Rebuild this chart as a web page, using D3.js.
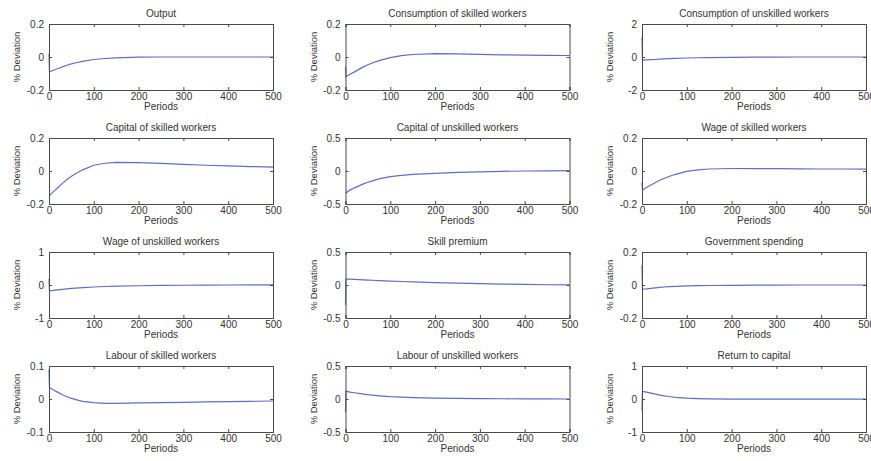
<!DOCTYPE html>
<html><head><meta charset="utf-8">
<script src="https://cdn.jsdelivr.net/npm/d3@7"></script>
<style>
html,body{margin:0;padding:0;background:#fff;}
svg{display:block;}
text{font-family:"Liberation Sans",Arial,sans-serif;fill:#333;}
</style></head>
<body><svg id="c" width="871" height="461"></svg>
<script>
// ---- data ----
const titles = ["Output","Consumption of skilled workers","Consumption of unskilled workers",
  "Capital of skilled workers","Capital of unskilled workers","Wage of skilled workers",
  "Wage of unskilled workers","Skill premium","Government spending",
  "Labour of skilled workers","Labour of unskilled workers","Return to capital"];
const periods = [0,1,10,20,30,40,50,60,75,100,125,150,200,250,300,350,400,450,500];
const xTicks = [0,100,200,300,400,500];
const output        = [0.02,-0.09,-0.08,-0.07,-0.06,-0.05,-0.042,-0.035,-0.026,-0.015,-0.009,-0.005,-0.001,0,0,0,0,0,0];
const consSkilled   = [-0.06,-0.12,-0.105,-0.09,-0.075,-0.06,-0.047,-0.036,-0.022,-0.004,0.008,0.015,0.02,0.019,0.016,0.013,0.011,0.01,0.009];
const consUnskilled = [1.2,-0.18,-0.17,-0.16,-0.15,-0.13,-0.11,-0.1,-0.08,-0.06,-0.045,-0.035,-0.02,-0.01,-0.005,0,0,0,0];
const capSkilled    = [-0.15,-0.148,-0.125,-0.1,-0.075,-0.052,-0.032,-0.015,0.007,0.035,0.047,0.052,0.051,0.046,0.04,0.035,0.031,0.027,0.024];
const capUnskilled  = [-0.33,-0.33,-0.29,-0.255,-0.225,-0.195,-0.17,-0.15,-0.12,-0.085,-0.065,-0.05,-0.035,-0.022,-0.012,-0.005,0,0.003,0.005];
const wageSkilled   = [-0.07,-0.115,-0.1,-0.085,-0.07,-0.056,-0.044,-0.033,-0.02,-0.002,0.007,0.012,0.015,0.015,0.014,0.013,0.012,0.012,0.011];
const wageUnskilled = [0.18,-0.18,-0.165,-0.15,-0.135,-0.12,-0.105,-0.095,-0.08,-0.06,-0.045,-0.035,-0.022,-0.014,-0.008,-0.004,0,0.002,0.003];
const skillPremium  = [-0.3,0.09,0.088,0.085,0.082,0.078,0.075,0.072,0.067,0.06,0.053,0.047,0.037,0.028,0.02,0.014,0.008,0.004,0.001];
const govSpending   = [0.12,-0.025,-0.023,-0.02,-0.017,-0.014,-0.012,-0.01,-0.008,-0.005,-0.004,-0.003,-0.002,-0.001,-0.001,0,0,0,0];
const labSkilled    = [0.09,0.035,0.027,0.02,0.013,0.007,0.002,-0.002,-0.007,-0.011,-0.013,-0.013,-0.012,-0.011,-0.01,-0.009,-0.008,-0.007,-0.006];
const labUnskilled  = [-0.2,0.12,0.105,0.095,0.085,0.075,0.065,0.058,0.048,0.035,0.027,0.022,0.014,0.009,0.006,0.004,0.002,0.001,0];
const returnCapital = [-0.35,0.23,0.21,0.18,0.15,0.12,0.095,0.075,0.05,0.025,0.01,0.002,-0.005,-0.006,-0.005,-0.004,-0.003,-0.002,-0.001];
const seriesList = [output,consSkilled,consUnskilled,capSkilled,capUnskilled,wageSkilled,
  wageUnskilled,skillPremium,govSpending,labSkilled,labUnskilled,returnCapital];
const yLimits = [0.2,0.2,2,0.2,0.5,0.2,1,0.5,0.2,0.1,0.5,1];
const yTickLabels = [["-0.2","0","0.2"],["-0.2","0","0.2"],["-2","0","2"],["-0.2","0","0.2"],
  ["-0.5","0","0.5"],["-0.2","0","0.2"],["-1","0","1"],["-0.5","0","0.5"],["-0.2","0","0.2"],
  ["-0.1","0","0.1"],["-0.5","0","0.5"],["-1","0","1"]];

// ---- layout ----
const svg = d3.select("#c");
const W = 224, H = 66;
const col0 = 49, colStep = 296.5, row0 = 24, rowStep = 114;
const lineColor = "#5d6ec8", axisColor = "#4a4a4a";

titles.forEach((t, i) => {
  const c = i % 3, r = Math.floor(i / 3);
  const g = svg.append("g").attr("transform", `translate(${col0 + c*colStep},${row0 + r*rowStep})`);
  const lim = yLimits[i];
  const x = d3.scaleLinear().domain([0, 500]).range([0, W]);
  const y = d3.scaleLinear().domain([-lim, lim]).range([H, 0]);
  const yt = [-lim, 0, lim];

  // line
  const line = d3.line().x((d, k) => x(periods[k])).y(d => y(d));
  g.append("path").datum(seriesList[i]).attr("d", line)
    .attr("fill", "none").attr("stroke", lineColor).attr("stroke-width", 1.2);

  // axes (MATLAB-style inward ticks, box)
  const bottom = d3.axisBottom(x).tickValues(xTicks).tickSize(-3).tickPadding(3).tickFormat(d3.format("d"));
  const top = d3.axisTop(x).tickValues(xTicks).tickSize(-3).tickFormat("");
  const left = d3.axisLeft(y).tickValues(yt).tickSize(-3).tickPadding(5)
    .tickFormat((d, k) => yTickLabels[i][k]);
  const right = d3.axisRight(y).tickValues(yt).tickSize(-3).tickFormat("");
  const styleAx = sel => {
    sel.selectAll("path").attr("stroke", axisColor).attr("stroke-width", 1);
    sel.selectAll("line").attr("stroke", axisColor);
    sel.selectAll("text").attr("font-size", 10).attr("fill", "#333")
      .attr("font-family", "'Liberation Sans',Arial,sans-serif");
  };
  g.append("g").attr("transform", `translate(0,${H})`).call(bottom).call(styleAx);
  g.append("g").call(top).call(styleAx);
  g.append("g").call(left).call(styleAx);
  g.append("g").attr("transform", `translate(${W},0)`).call(right).call(styleAx);

  // labels
  g.append("text").attr("x", W/2).attr("y", -7).attr("text-anchor", "middle")
    .attr("font-size", 10).text(t);
  g.append("text").attr("x", W/2).attr("y", H + 20).attr("text-anchor", "middle")
    .attr("font-size", 10).text("Periods");
  g.append("text").attr("transform", `translate(${-29},${H/2}) rotate(-90)`)
    .attr("text-anchor", "middle").attr("font-size", 9.5).text("% Deviation");
});
</script></body></html>
